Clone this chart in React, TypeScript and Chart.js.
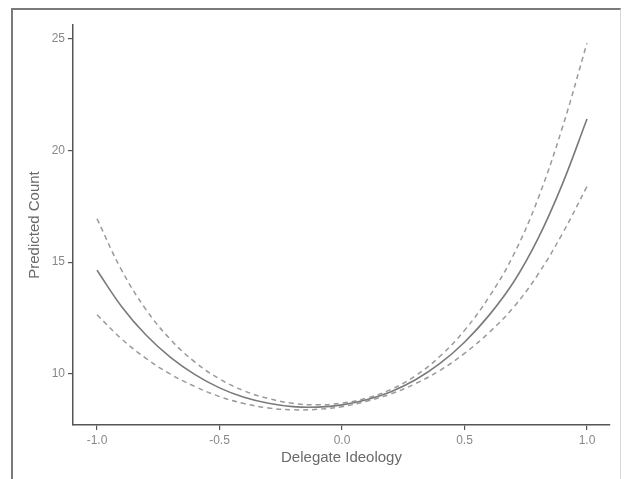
import React, { useEffect, useRef } from "react";
import { Chart, registerables } from "chart.js";

Chart.register(...registerables);

const ideology = [-1.0, -0.9, -0.8, -0.7, -0.6, -0.5, -0.4, -0.3, -0.2, -0.1, 0.0, 0.1, 0.2, 0.3, 0.4, 0.5, 0.6, 0.7, 0.8, 0.9, 1.0];
const predicted = [14.64, 13.02, 11.74, 10.74, 9.97, 9.38, 8.96, 8.69, 8.54, 8.52, 8.62, 8.85, 9.21, 9.74, 10.47, 11.42, 12.62, 14.1, 16.05, 18.5, 21.4];
const upperBound = [16.94, 14.65, 12.88, 11.54, 10.53, 9.78, 9.25, 8.9, 8.69, 8.62, 8.7, 8.92, 9.31, 9.92, 10.79, 11.95, 13.44, 15.32, 17.83, 21.03, 24.79];
const lowerBound = [12.65, 11.57, 10.7, 9.99, 9.44, 8.99, 8.68, 8.48, 8.4, 8.42, 8.54, 8.78, 9.11, 9.57, 10.16, 10.92, 11.85, 12.98, 14.45, 16.28, 18.38];
const xTicks = [-1.0, -0.5, 0.0, 0.5, 1.0];
const yTicks = [10, 15, 20, 25];

const toPoints = (ys: number[]) => ideology.map((x, i) => ({ x, y: ys[i] }));

export default function App() {
  const ref = useRef<HTMLCanvasElement | null>(null);

  useEffect(() => {
    if (!ref.current) return;
    const font = "'Liberation Sans', Arial, sans-serif";
    const chart = new Chart(ref.current, {
      type: "line",
      data: {
        datasets: [
          {
            label: "Predicted",
            data: toPoints(predicted),
            borderColor: "#7a7a7a",
            borderWidth: 1.6,
            pointRadius: 0,
            tension: 0.4,
            fill: false,
          },
          {
            label: "Upper",
            data: toPoints(upperBound),
            borderColor: "#9a9a9a",
            borderWidth: 1.5,
            borderDash: [5, 4],
            pointRadius: 0,
            tension: 0.4,
            fill: false,
          },
          {
            label: "Lower",
            data: toPoints(lowerBound),
            borderColor: "#9a9a9a",
            borderWidth: 1.5,
            borderDash: [5, 4],
            pointRadius: 0,
            tension: 0.4,
            fill: false,
          },
        ],
      },
      options: {
        animation: false,
        responsive: false,
        maintainAspectRatio: false,
        layout: { padding: { left: 0, top: 25, right: 14, bottom: 0 } },
        plugins: { legend: { display: false }, tooltip: { enabled: false } },
        scales: {
          x: {
            type: "linear",
            min: -1.098,
            max: 1.094,
            afterBuildTicks: (scale: any) => {
              scale.ticks = xTicks.map((v) => ({ value: v }));
            },
            afterFit: (scale: any) => {
              scale.height = 54;
            },
            grid: {
              display: true,
              drawOnChartArea: false,
              drawTicks: true,
              tickLength: 5,
              color: "#555",
              lineWidth: 1.2,
            },
            border: { display: true, color: "#555", width: 1.5 },
            ticks: {
              color: "#888",
              font: { family: font, size: 12 },
              padding: 3,
              maxRotation: 0,
              callback: (v: any) => Number(v).toFixed(1),
            },
            title: {
              display: true,
              text: "Delegate Ideology",
              color: "#6a6a6a",
              font: { family: font, size: 15 },
              padding: { top: 0, bottom: 12 },
            },
          },
          y: {
            type: "linear",
            min: 7.72,
            max: 25.6,
            afterBuildTicks: (scale: any) => {
              scale.ticks = yTicks.map((v) => ({ value: v }));
            },
            afterFit: (scale: any) => {
              scale.width = 73;
            },
            grid: {
              display: true,
              drawOnChartArea: false,
              drawTicks: true,
              tickLength: 5,
              color: "#555",
              lineWidth: 1.2,
            },
            border: { display: true, color: "#555", width: 1.5 },
            ticks: {
              color: "#888",
              font: { family: font, size: 12 },
              padding: 3,
              callback: (v: any) => String(v),
            },
            title: {
              display: true,
              text: "Predicted Count",
              color: "#6a6a6a",
              font: { family: font, size: 15 },
              padding: { top: 26, bottom: 0 },
            },
          },
        },
      },
    });
    return () => chart.destroy();
  }, []);

  return (
    <div style={{ position: "fixed", left: 0, top: 0, width: 624, height: 479, background: "#fff", overflow: "hidden" }}>
      <div
        style={{
          position: "absolute",
          left: 11,
          top: 8,
          width: 610,
          height: 490,
          borderLeft: "2px solid #7a7a7a",
          borderTop: "2px solid #7a7a7a",
          borderRight: "1px solid #d8d8d8",
          boxSizing: "border-box",
        }}
      />
      <canvas ref={ref} width={624} height={479} style={{ position: "absolute", left: 0, top: 0, width: 624, height: 479 }} />
    </div>
  );
}
